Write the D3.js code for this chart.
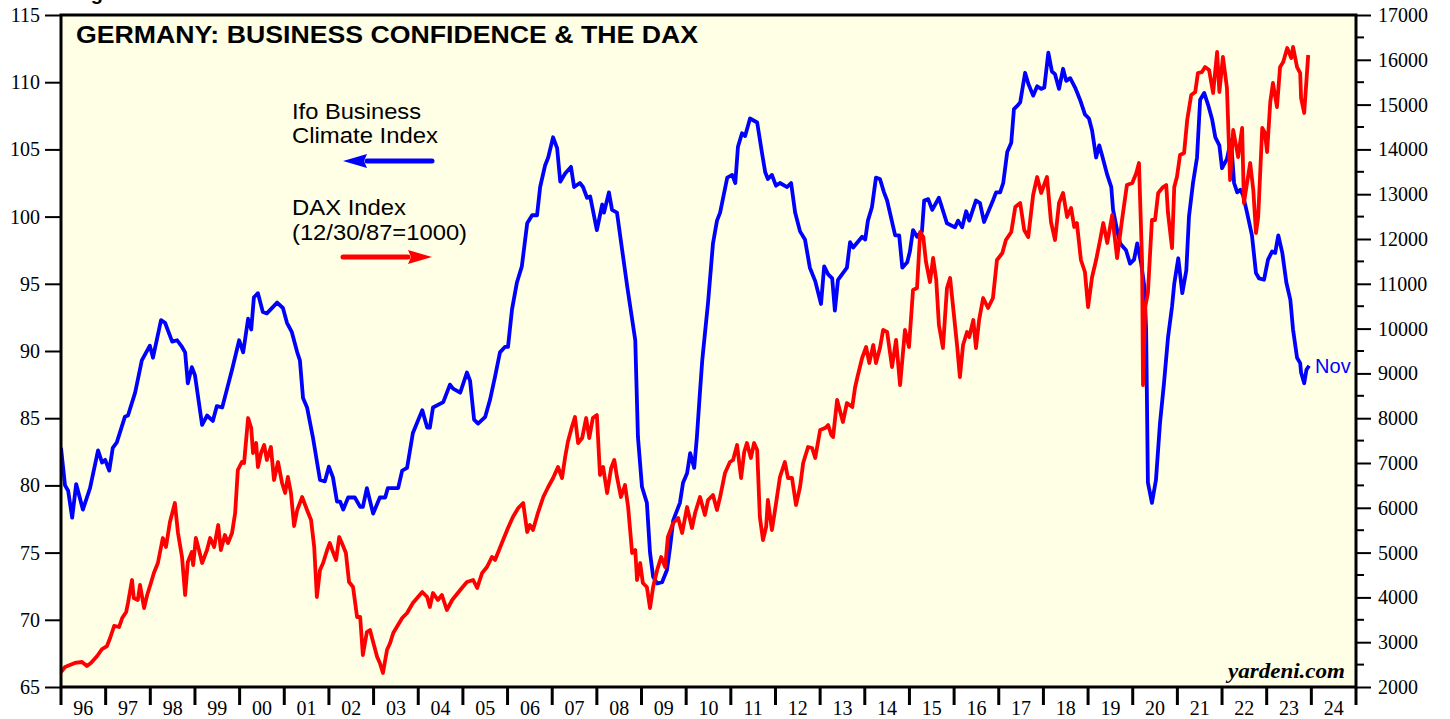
<!DOCTYPE html>
<html>
<head>
<meta charset="utf-8">
<script src="https://cdn.jsdelivr.net/npm/d3@7/dist/d3.min.js"></script>
<style>
	body { margin: 0; background: white; }
	svg { display: block; }
</style>
</head>
<body>
<div id="chart"></div>
<script>
// Ifo Business Climate Index, [decimal year, index]
const ifoSeries = [
	[1996.00, 82.8], [1996.09, 80.0], [1996.16, 79.6], [1996.25, 77.6], [1996.34, 80.1], [1996.49, 78.2],
	[1996.65, 79.8], [1996.83, 82.6], [1996.92, 81.7], [1996.99, 81.9], [1997.08, 81.1], [1997.16, 82.8],
	[1997.25, 83.2], [1997.43, 85.1], [1997.50, 85.2], [1997.66, 86.9], [1997.81, 89.3], [1997.99, 90.4],
	[1998.06, 89.5], [1998.24, 92.3], [1998.33, 92.1], [1998.49, 90.7], [1998.60, 90.8], [1998.71, 90.3],
	[1998.78, 89.9], [1998.84, 87.6], [1998.93, 88.8], [1999.00, 88.2], [1999.16, 84.5], [1999.27, 85.2],
	[1999.40, 84.8], [1999.49, 85.9], [1999.61, 85.8], [1999.72, 87.2], [1999.83, 88.6], [1999.99, 90.8],
	[2000.08, 89.9], [2000.19, 92.4], [2000.26, 91.6], [2000.32, 94.0], [2000.41, 94.3], [2000.52, 92.9],
	[2000.61, 92.8], [2000.84, 93.6], [2000.97, 93.2], [2001.06, 92.1], [2001.17, 91.4], [2001.29, 89.9],
	[2001.35, 89.3], [2001.42, 86.5], [2001.51, 85.8], [2001.64, 83.6], [2001.80, 80.4], [2001.91, 80.3],
	[2002.00, 81.4], [2002.09, 80.6], [2002.18, 78.8], [2002.25, 78.8], [2002.32, 78.2], [2002.43, 79.1],
	[2002.58, 79.1], [2002.70, 78.4], [2002.76, 78.4], [2002.85, 79.8], [2002.99, 77.9], [2003.14, 79.1],
	[2003.26, 79.1], [2003.32, 79.8], [2003.55, 79.8], [2003.64, 81.1], [2003.75, 81.3], [2003.88, 83.9],
	[2004.09, 85.6], [2004.20, 84.3], [2004.26, 84.3], [2004.33, 85.8], [2004.56, 86.2], [2004.71, 87.5],
	[2004.78, 87.2], [2004.94, 86.9], [2005.09, 88.4], [2005.16, 87.8], [2005.25, 84.9], [2005.34, 84.6],
	[2005.50, 85.1], [2005.61, 86.4], [2005.72, 88.1], [2005.83, 89.9], [2005.94, 90.3], [2006.01, 90.3],
	[2006.10, 93.1], [2006.21, 95.1], [2006.32, 96.3], [2006.44, 99.5], [2006.55, 100.1], [2006.66, 100.1],
	[2006.73, 102.2], [2006.84, 103.8], [2006.91, 104.4], [2007.02, 105.9], [2007.11, 105.1], [2007.18, 102.6],
	[2007.29, 103.2], [2007.42, 103.7], [2007.49, 102.2], [2007.62, 102.5], [2007.69, 102.2], [2007.78, 101.4],
	[2007.85, 101.5], [2008.00, 99.0], [2008.12, 100.9], [2008.16, 100.3], [2008.27, 101.8], [2008.34, 100.5],
	[2008.45, 100.3], [2008.68, 94.8], [2008.86, 90.8], [2008.92, 83.6], [2009.01, 79.9], [2009.12, 78.7],
	[2009.19, 75.0], [2009.26, 73.2], [2009.35, 72.7], [2009.46, 72.8], [2009.57, 73.7], [2009.64, 75.4],
	[2009.71, 77.4], [2009.86, 78.7], [2009.93, 80.2], [2010.02, 80.9], [2010.09, 82.4], [2010.18, 81.3],
	[2010.24, 83.6], [2010.31, 87.0], [2010.36, 89.3], [2010.42, 91.3], [2010.49, 93.6], [2010.60, 98.0],
	[2010.69, 99.7], [2010.76, 100.3], [2010.92, 102.9], [2011.03, 103.1], [2011.10, 102.5], [2011.16, 105.2],
	[2011.25, 106.2], [2011.32, 106.0], [2011.43, 107.3], [2011.59, 107.0], [2011.70, 104.7], [2011.77, 103.3],
	[2011.83, 102.8], [2011.92, 103.1], [2012.01, 102.3], [2012.10, 102.5], [2012.26, 102.2], [2012.35, 102.5],
	[2012.44, 100.3], [2012.55, 98.9], [2012.66, 98.3], [2012.77, 96.2], [2012.89, 95.2], [2013.02, 93.5],
	[2013.09, 96.3], [2013.18, 95.7], [2013.27, 95.4], [2013.33, 93.0], [2013.40, 95.3], [2013.60, 96.2],
	[2013.67, 98.1], [2013.74, 97.7], [2013.94, 98.5], [2014.01, 98.3], [2014.07, 99.7], [2014.16, 100.7],
	[2014.25, 102.9], [2014.34, 102.8], [2014.43, 101.8], [2014.50, 101.2], [2014.68, 98.6], [2014.77, 98.6],
	[2014.84, 96.2], [2014.95, 96.6], [2015.01, 97.4], [2015.08, 99.0], [2015.17, 98.5], [2015.28, 98.9],
	[2015.33, 101.2], [2015.42, 101.3], [2015.51, 100.5], [2015.66, 101.4], [2015.84, 99.5], [2016.02, 99.2],
	[2016.09, 99.7], [2016.18, 99.2], [2016.27, 100.4], [2016.34, 99.7], [2016.49, 101.2], [2016.58, 101.0],
	[2016.67, 99.6], [2016.87, 101.2], [2016.94, 101.8], [2017.03, 101.8], [2017.10, 102.5], [2017.19, 104.8],
	[2017.28, 105.5], [2017.34, 108.0], [2017.43, 108.3], [2017.48, 108.5], [2017.59, 110.7], [2017.66, 109.9],
	[2017.77, 109.0], [2017.86, 109.7], [2017.95, 109.5], [2018.02, 109.6], [2018.11, 112.2], [2018.19, 110.8],
	[2018.26, 110.6], [2018.35, 109.5], [2018.44, 111.0], [2018.51, 110.1], [2018.60, 110.3], [2018.71, 109.6],
	[2018.82, 108.7], [2018.93, 107.6], [2019.02, 107.3], [2019.09, 106.4], [2019.18, 104.4], [2019.25, 105.3],
	[2019.31, 104.6], [2019.43, 103.1], [2019.52, 102.2], [2019.56, 100.5], [2019.65, 99.0], [2019.72, 98.0],
	[2019.85, 97.5], [2019.94, 96.5], [2020.03, 96.8], [2020.10, 98.0], [2020.19, 96.5], [2020.26, 94.8],
	[2020.30, 91.6], [2020.34, 80.2], [2020.43, 78.7], [2020.52, 80.4], [2020.61, 84.6], [2020.70, 87.6],
	[2020.79, 91.0], [2020.88, 93.3], [2020.93, 95.0], [2021.02, 96.9], [2021.11, 94.3], [2021.20, 96.0],
	[2021.26, 100.0], [2021.35, 102.5], [2021.44, 104.4], [2021.51, 108.7], [2021.60, 109.2], [2021.69, 108.3],
	[2021.78, 107.2], [2021.85, 105.9], [2021.94, 105.3], [2022.00, 103.6], [2022.11, 104.3], [2022.20, 105.7],
	[2022.27, 102.5], [2022.34, 101.8], [2022.41, 102.0], [2022.47, 101.6], [2022.56, 100.3], [2022.67, 98.6],
	[2022.76, 95.8], [2022.83, 95.4], [2022.94, 95.3], [2023.03, 96.8], [2023.12, 97.4], [2023.19, 97.3],
	[2023.26, 98.6], [2023.35, 97.3], [2023.44, 95.1], [2023.53, 93.8], [2023.59, 91.6], [2023.68, 89.5],
	[2023.75, 89.1], [2023.77, 88.4], [2023.84, 87.6], [2023.89, 88.6], [2023.95, 88.9],
]

// DAX Index (12/30/87=1000), [decimal year, level]
const daxSeries = [
	[1996.00, 2335], [1996.09, 2446], [1996.20, 2491], [1996.31, 2536], [1996.47, 2558], [1996.58, 2469],
	[1996.67, 2536], [1996.81, 2692], [1996.92, 2848], [1997.03, 2915], [1997.10, 3094], [1997.19, 3362],
	[1997.30, 3339], [1997.37, 3540], [1997.46, 3674], [1997.50, 3875], [1997.59, 4388], [1997.63, 3987],
	[1997.72, 3942], [1997.77, 4277], [1997.86, 3763], [1997.93, 4054], [1998.02, 4344], [1998.08, 4545],
	[1998.17, 4768], [1998.28, 5326], [1998.35, 5125], [1998.44, 5683], [1998.55, 6107], [1998.62, 5437],
	[1998.71, 4902], [1998.78, 4054], [1998.84, 4790], [1998.93, 5013], [1998.96, 4723], [1999.02, 5326],
	[1999.09, 5058], [1999.16, 4768], [1999.27, 5058], [1999.34, 5326], [1999.43, 5125], [1999.52, 5616],
	[1999.58, 5058], [1999.67, 5393], [1999.74, 5214], [1999.83, 5437], [1999.90, 5884], [1999.96, 6844],
	[2000.05, 7022], [2000.10, 7000], [2000.19, 8004], [2000.26, 7781], [2000.30, 7223], [2000.37, 7446],
	[2000.41, 6911], [2000.48, 7223], [2000.55, 7402], [2000.61, 7067], [2000.70, 7357], [2000.77, 6621],
	[2000.86, 7022], [2000.95, 6554], [2001.02, 6330], [2001.08, 6688], [2001.15, 6330], [2001.22, 5594],
	[2001.29, 5951], [2001.40, 6241], [2001.51, 5951], [2001.60, 5728], [2001.67, 5125], [2001.73, 4009],
	[2001.80, 4612], [2001.87, 4768], [2001.96, 5058], [2002.02, 5214], [2002.09, 5013], [2002.16, 4835],
	[2002.23, 5348], [2002.29, 5214], [2002.38, 4991], [2002.45, 4344], [2002.54, 4232], [2002.63, 3562],
	[2002.70, 3562], [2002.76, 2714], [2002.85, 3228], [2002.92, 3272], [2002.99, 3004], [2003.08, 2670],
	[2003.14, 2536], [2003.21, 2313], [2003.30, 2826], [2003.37, 2982], [2003.44, 3205], [2003.64, 3540],
	[2003.75, 3652], [2003.88, 3875], [2004.09, 4121], [2004.20, 4009], [2004.26, 3786], [2004.33, 4098],
	[2004.44, 3942], [2004.53, 4054], [2004.64, 3719], [2004.76, 3942], [2004.94, 4165], [2005.09, 4344],
	[2005.23, 4388], [2005.32, 4210], [2005.43, 4545], [2005.54, 4679], [2005.65, 4902], [2005.72, 4835],
	[2005.81, 5058], [2005.90, 5281], [2006.01, 5549], [2006.12, 5795], [2006.24, 5996], [2006.35, 6107],
	[2006.44, 5460], [2006.50, 5616], [2006.57, 5504], [2006.68, 5884], [2006.80, 6241], [2006.91, 6464],
	[2007.02, 6665], [2007.13, 6911], [2007.22, 6665], [2007.29, 7134], [2007.35, 7469], [2007.44, 7804],
	[2007.51, 8027], [2007.58, 7446], [2007.67, 7558], [2007.76, 8004], [2007.83, 7558], [2007.91, 8004],
	[2008.00, 8071], [2008.07, 6732], [2008.14, 6911], [2008.23, 6330], [2008.32, 6888], [2008.39, 7067],
	[2008.45, 6688], [2008.54, 6241], [2008.63, 6509], [2008.70, 6018], [2008.79, 4991], [2008.86, 5058],
	[2008.90, 4388], [2008.97, 4768], [2009.03, 4321], [2009.12, 4232], [2009.19, 3763], [2009.26, 4232],
	[2009.35, 4612], [2009.44, 4902], [2009.53, 4679], [2009.59, 5348], [2009.71, 5661], [2009.82, 5773],
	[2009.91, 5437], [2010.02, 6018], [2010.13, 5549], [2010.20, 5884], [2010.31, 6241], [2010.42, 5840],
	[2010.49, 6174], [2010.60, 6286], [2010.69, 5951], [2010.76, 6241], [2010.87, 6777], [2010.98, 7022],
	[2011.05, 7067], [2011.14, 7402], [2011.23, 6665], [2011.30, 7246], [2011.36, 7446], [2011.45, 7112],
	[2011.52, 7446], [2011.59, 7290], [2011.65, 5795], [2011.72, 5281], [2011.79, 5571], [2011.83, 6174],
	[2011.92, 5504], [2011.99, 5951], [2012.10, 6688], [2012.21, 7022], [2012.28, 6665], [2012.37, 6665],
	[2012.46, 6063], [2012.55, 6464], [2012.62, 7000], [2012.73, 7357], [2012.82, 7335], [2012.89, 7112],
	[2013.00, 7737], [2013.11, 7781], [2013.18, 7848], [2013.25, 7625], [2013.29, 7580], [2013.38, 8406],
	[2013.51, 7915], [2013.60, 8339], [2013.72, 8250], [2013.78, 8674], [2013.83, 8897], [2013.94, 9344],
	[2014.03, 9589], [2014.10, 9232], [2014.19, 9634], [2014.25, 9232], [2014.34, 9567], [2014.41, 9969],
	[2014.50, 9924], [2014.61, 9143], [2014.70, 9746], [2014.79, 8741], [2014.90, 9969], [2014.99, 9589],
	[2015.08, 10862], [2015.17, 10906], [2015.24, 12156], [2015.31, 12045], [2015.37, 11487], [2015.46, 11040],
	[2015.53, 11576], [2015.60, 11085], [2015.66, 10080], [2015.75, 9567], [2015.84, 10906], [2015.91, 11130],
	[2015.98, 10460], [2016.07, 9589], [2016.13, 8920], [2016.20, 9634], [2016.29, 9924], [2016.34, 9813],
	[2016.43, 10192], [2016.49, 9567], [2016.56, 10192], [2016.65, 10683], [2016.76, 10460], [2016.87, 10683],
	[2016.96, 11531], [2017.08, 11687], [2017.16, 11978], [2017.28, 12156], [2017.37, 12714], [2017.48, 12804],
	[2017.57, 12201], [2017.66, 12045], [2017.77, 12982], [2017.86, 13384], [2017.95, 13027], [2018.08, 13384],
	[2018.17, 12380], [2018.26, 11978], [2018.35, 12804], [2018.44, 13027], [2018.53, 12491], [2018.62, 12692],
	[2018.69, 12268], [2018.75, 12357], [2018.84, 11531], [2018.93, 11263], [2019.00, 10482], [2019.09, 11152],
	[2019.18, 11531], [2019.27, 11978], [2019.34, 12357], [2019.43, 11911], [2019.54, 12536], [2019.65, 11576],
	[2019.76, 12424], [2019.87, 13205], [2019.99, 13250], [2020.08, 13473], [2020.14, 13696], [2020.21, 11464],
	[2020.23, 8741], [2020.28, 10482], [2020.34, 10795], [2020.43, 12424], [2020.50, 12424], [2020.57, 13027],
	[2020.68, 13161], [2020.75, 13205], [2020.79, 12580], [2020.88, 11799], [2020.93, 13161], [2020.99, 13384],
	[2021.06, 13875], [2021.15, 13920], [2021.22, 14656], [2021.31, 15214], [2021.40, 15281], [2021.46, 15705],
	[2021.55, 15727], [2021.62, 15839], [2021.71, 15772], [2021.80, 15259], [2021.89, 16174], [2021.94, 15281],
	[2022.02, 16063], [2022.11, 15371], [2022.18, 13317], [2022.25, 14433], [2022.32, 14054], [2022.36, 13830],
	[2022.45, 14478], [2022.49, 12804], [2022.56, 13250], [2022.63, 13696], [2022.70, 13094], [2022.76, 12134],
	[2022.81, 12491], [2022.90, 14478], [2022.96, 14366], [2023.01, 13942], [2023.08, 15058], [2023.14, 15482],
	[2023.23, 14946], [2023.30, 15839], [2023.37, 15951], [2023.46, 16264], [2023.55, 16040], [2023.59, 16286],
	[2023.68, 15839], [2023.75, 15705], [2023.77, 15147], [2023.84, 14813], [2023.93, 16107],
]

const years = d3.range(1996, 2025)
const leftTicks = d3.range(65, 116, 5)
const rightTicks = d3.range(2000, 17001, 1000)
const rightMinorTicks = d3.range(2500, 17000, 1000)

const width = 1450
const height = 719
const margin = { top: 15, right: 94, bottom: 32, left: 61 }
const innerW = width - margin.left - margin.right
const innerH = height - margin.top - margin.bottom

const svg = d3
	.select("#chart")
	.append("svg")
	.attr("width", width)
	.attr("height", height)

// Heading above the chart, cut off by the top edge as in the source
svg.append("text")
	.attr("x", 73)
	.attr("y", 0)
	.text("Figure 1.")
	.style("font-family", "Liberation Sans, Arial, sans-serif")
	.style("font-weight", "bold")
	.style("font-size", "20px")

const g = svg
	.append("g")
	.attr("transform", `translate(${margin.left},${margin.top})`)

const xScale = d3.scaleLinear().domain([1996, 2025]).range([0, innerW])
const yLeft = d3.scaleLinear().domain([65, 115]).range([innerH, 0])
const yRight = d3.scaleLinear().domain([2000, 17000]).range([innerH, 0])

// Plot background
g.append("rect")
	.attr("width", innerW)
	.attr("height", innerH)
	.attr("fill", "#ffffe5")

g.append("clipPath")
	.attr("id", "plot-clip")
	.append("rect")
	.attr("width", innerW)
	.attr("height", innerH)

// Left axis
const leftAxis = g.append("g").call(
	d3.axisLeft(yLeft).tickValues(leftTicks).tickSize(16).tickPadding(5)
)
leftAxis.select(".domain").remove()
leftAxis.selectAll(".tick line").attr("stroke-width", 2)
leftAxis
	.selectAll(".tick text")
	.style("font-family", "Liberation Serif, Times New Roman, serif")
	.style("font-size", "20px")
	.attr("fill", "#000")

// Right axis
const rightAxis = g
	.append("g")
	.attr("transform", `translate(${innerW},0)`)
	.call(
		d3
			.axisRight(yRight)
			.tickValues(rightTicks)
			.tickFormat(d3.format("d"))
			.tickSize(15)
			.tickPadding(7)
	)
rightAxis.select(".domain").remove()
rightAxis.selectAll(".tick line").attr("stroke-width", 2)
rightAxis
	.selectAll(".tick text")
	.style("font-family", "Liberation Serif, Times New Roman, serif")
	.style("font-size", "20px")
	.attr("fill", "#000")

rightAxis
	.selectAll(".minor")
	.data(rightMinorTicks)
	.enter()
	.append("line")
	.attr("class", "minor")
	.attr("x1", 0)
	.attr("x2", 8)
	.attr("y1", (d) => yRight(d))
	.attr("y2", (d) => yRight(d))
	.attr("stroke", "#000")
	.attr("stroke-width", 2)

// Bottom year ticks, labels centred between them
const xAxis = g.append("g").attr("transform", `translate(0,${innerH})`)

xAxis
	.selectAll(".year-tick")
	.data(years.concat([2025]))
	.enter()
	.append("line")
	.attr("class", "year-tick")
	.attr("x1", (d) => xScale(d))
	.attr("x2", (d) => xScale(d))
	.attr("y1", 0)
	.attr("y2", 18)
	.attr("stroke", "#000")
	.attr("stroke-width", 3)

xAxis
	.selectAll(".year-label")
	.data(years)
	.enter()
	.append("text")
	.attr("class", "year-label")
	.attr("x", (d) => xScale(d + 0.5))
	.attr("y", 28)
	.attr("text-anchor", "middle")
	.text((d) => String(d % 100).padStart(2, "0"))
	.style("font-family", "Liberation Serif, Times New Roman, serif")
	.style("font-size", "20px")

// Lines
const ifoLine = d3
	.line()
	.x((d) => xScale(d[0]))
	.y((d) => yLeft(d[1]))

const daxLine = d3
	.line()
	.x((d) => xScale(d[0]))
	.y((d) => yRight(d[1]))

const lines = g.append("g").attr("clip-path", "url(#plot-clip)")

lines
	.append("path")
	.datum(ifoSeries)
	.attr("fill", "none")
	.attr("stroke", "#0000ff")
	.attr("stroke-width", 3.8)
	.attr("stroke-linejoin", "round")
	.attr("d", ifoLine)

lines
	.append("path")
	.datum(daxSeries)
	.attr("fill", "none")
	.attr("stroke", "#ff0000")
	.attr("stroke-width", 3.8)
	.attr("stroke-linejoin", "round")
	.attr("d", daxLine)

// Frame
g.append("rect")
	.attr("width", innerW)
	.attr("height", innerH)
	.attr("fill", "none")
	.attr("stroke", "#000")
	.attr("stroke-width", 3)

// Title and labels
const sans = "Liberation Sans, Arial, Helvetica, sans-serif"

svg.append("text")
	.attr("x", 76)
	.attr("y", 43)
	.attr("textLength", 622)
	.attr("lengthAdjust", "spacingAndGlyphs")
	.text("GERMANY: BUSINESS CONFIDENCE & THE DAX")
	.style("font-family", sans)
	.style("font-weight", "bold")
	.style("font-size", "23.5px")

const labels = [
	{ text: "Ifo Business", y: 119, len: 129 },
	{ text: "Climate Index", y: 143, len: 146 },
	{ text: "DAX Index", y: 215, len: 114 },
	{ text: "(12/30/87=1000)", y: 240, len: 175 },
]

labels.forEach((d) => {
	svg.append("text")
		.attr("x", 292)
		.attr("y", d.y)
		.attr("textLength", d.len)
		.attr("lengthAdjust", "spacingAndGlyphs")
		.text(d.text)
		.style("font-family", sans)
		.style("font-size", "22.5px")
})

// Legend arrows
const drawArrow = (y, color, dir) => {
	const tip = dir < 0 ? 343 : 432
	const tail = dir < 0 ? 432 : 343
	const back = tip - dir * 24
	svg.append("line")
		.attr("x1", tail)
		.attr("x2", back)
		.attr("y1", y)
		.attr("y2", y)
		.attr("stroke", color)
		.attr("stroke-width", 5)
		.attr("stroke-linecap", "round")
	svg.append("path")
		.attr("d", `M${tip},${y} L${back},${y - 7} L${back + dir * 3},${y} L${back},${y + 7} Z`)
		.attr("fill", color)
}

drawArrow(161, "#0000ff", -1)
drawArrow(257, "#ff0000", 1)

// Last-point tag
const last = ifoSeries[ifoSeries.length - 1]
svg.append("text")
	.attr("x", margin.left + xScale(last[0]) + 6)
	.attr("y", margin.top + yLeft(last[1]) + 7)
	.text("Nov")
	.style("font-family", sans)
	.style("font-size", "20px")
	.attr("fill", "#0000ff")

svg.append("text")
	.attr("x", 1228)
	.attr("y", 678)
	.attr("textLength", 117)
	.attr("lengthAdjust", "spacingAndGlyphs")
	.text("yardeni.com")
	.style("font-family", "Liberation Serif, Times New Roman, serif")
	.style("font-weight", "bold")
	.style("font-style", "italic")
	.style("font-size", "20px")
</script>
</body>
</html>
